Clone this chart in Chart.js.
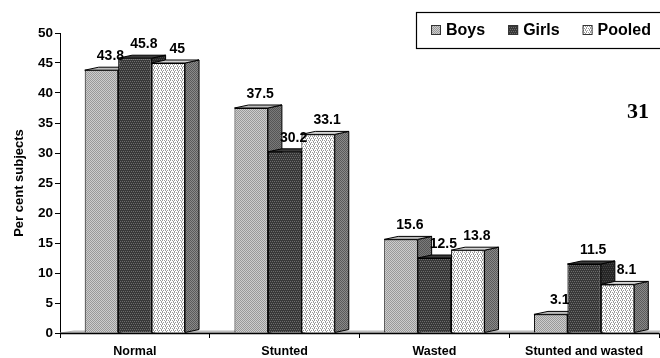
<!DOCTYPE html>
<html>
<head>
<meta charset="utf-8">
<script src="https://cdn.jsdelivr.net/npm/chart.js@4.4.1/dist/chart.umd.min.js"></script>
<style>
  html, body { margin: 0; padding: 0; background: #fff; }
  canvas { display: block; }
</style>
</head>
<body>
<canvas id="chart" width="660" height="358"></canvas>
<script>
// Nutritional status by sex (per cent of subjects)
const categories = ['Normal', 'Stunted', 'Wasted', 'Stunted and wasted'];
const seriesNames = ['Boys', 'Girls', 'Pooled'];
const boys   = [43.8, 37.5, 15.6, 3.1];
const girls  = [45.8, 30.2, 12.5, 11.5];
const pooled = [45, 33.1, 13.8, 8.1];
const yMin = 0, yMax = 50, yStep = 5;
const yTitle = 'Per cent subjects';
const pageNumber = '31';

// depth of the extruded 3-D look, in pixels
const DX = 14, DY = 3;
const FONT = '"Liberation Sans", Arial, sans-serif';

// small dithered fills
function makePattern(size, painter) {
  const c = document.createElement('canvas');
  c.width = size; c.height = size;
  const g = c.getContext('2d');
  painter(g);
  return document.getElementById('chart').getContext('2d').createPattern(c, 'repeat');
}
function checker(a, b) {
  return makePattern(2, g => {
    g.fillStyle = a; g.fillRect(0, 0, 2, 2);
    g.fillStyle = b; g.fillRect(0, 0, 1, 1); g.fillRect(1, 1, 1, 1);
  });
}
function bricks(a, b) {
  return makePattern(4, g => {
    g.fillStyle = a; g.fillRect(0, 0, 4, 4);
    g.fillStyle = b;
    g.fillRect(0, 1, 1, 1); g.fillRect(2, 1, 1, 1);
    g.fillRect(1, 3, 1, 1); g.fillRect(3, 3, 1, 1);
  });
}
function dots(a, b) {
  return makePattern(4, g => {
    g.fillStyle = a; g.fillRect(0, 0, 4, 4);
    g.fillStyle = b;
    g.fillRect(0, 0, 1, 1); g.fillRect(2, 0, 1, 1);
    g.fillRect(1, 1, 1, 1); g.fillRect(3, 2, 1, 1);
    g.fillRect(1, 2, 1, 1); g.fillRect(2, 3, 1, 1);
  });
}

const fills = {
  front: [checker('#cdcdcd', '#999999'), bricks('#383838', '#6a6a6a'), dots('#ffffff', '#9a9a9a')],
  side:  [checker('#7a7a7a', '#555555'), bricks('#262626', '#454545'), checker('#8a8a8a', '#5a5a5a')],
  top:   ['#bdbdbd', '#3a3a3a', '#d6d6d6']
};

const seriesValues = [boys, girls, pooled];

// floor, side faces and top faces behind the bar fronts
const depthPlugin = {
  id: 'depth',
  beforeDatasetsDraw(chart) {
    const { ctx, chartArea } = chart;
    const base = chart.scales.y.getPixelForValue(0);
    ctx.save();
    // floor slab
    ctx.beginPath();
    ctx.moveTo(chartArea.left, base);
    ctx.lineTo(chartArea.right, base);
    ctx.lineTo(chartArea.right + DX, base - DY + 1);
    ctx.lineTo(chartArea.left + DX, base - DY + 1);
    ctx.closePath();
    ctx.fillStyle = '#d2d2d2';
    ctx.fill();
    ctx.strokeStyle = '#9a9a9a';
    ctx.lineWidth = 0.7;
    ctx.stroke();

    ctx.lineWidth = 1;
    ctx.strokeStyle = '#000';
    for (let d = 0; d < chart.data.datasets.length; d++) {
      const meta = chart.getDatasetMeta(d);
      meta.data.forEach(bar => {
        const p = bar.getProps(['x', 'y', 'base', 'width'], true);
        const l = p.x - p.width / 2, r = p.x + p.width / 2;
        const t = p.y, b = p.base;
        // side face
        ctx.beginPath();
        ctx.moveTo(r, t);
        ctx.lineTo(r + DX, t - DY);
        ctx.lineTo(r + DX, b - DY);
        ctx.lineTo(r, b);
        ctx.closePath();
        ctx.fillStyle = fills.side[d];
        ctx.fill();
        ctx.stroke();
        // top face
        ctx.beginPath();
        ctx.moveTo(l, t);
        ctx.lineTo(l + DX, t - DY);
        ctx.lineTo(r + DX, t - DY);
        ctx.lineTo(r, t);
        ctx.closePath();
        ctx.fillStyle = fills.top[d];
        ctx.fill();
        ctx.stroke();
      });
    }
    ctx.restore();
  },
  afterDatasetsDraw(chart) {
    const { ctx, chartArea } = chart;
    const base = chart.scales.y.getPixelForValue(0);
    ctx.save();
    // axis line over the floor
    ctx.strokeStyle = '#000';
    ctx.lineWidth = 1.5;
    ctx.beginPath();
    ctx.moveTo(chartArea.left, base + 0.5);
    ctx.lineTo(chartArea.right, base + 0.5);
    ctx.stroke();
    // value labels
    ctx.fillStyle = '#000';
    ctx.font = 'bold 14px ' + FONT;
    ctx.textAlign = 'center';
    ctx.textBaseline = 'middle';
    chart.data.datasets.forEach((ds, d) => {
      chart.getDatasetMeta(d).data.forEach((bar, i) => {
        const p = bar.getProps(['x', 'y'], true);
        ctx.fillText(String(ds.data[i]), p.x + DX / 2 + 2, p.y - 14);
      });
    });
    ctx.restore();
  },
  afterDraw(chart) {
    const { ctx } = chart;
    ctx.save();
    // legend box
    ctx.strokeStyle = '#000';
    ctx.lineWidth = 1.2;
    ctx.strokeRect(416.5, 12.5, 260, 36);
    ctx.font = 'bold 16px ' + FONT;
    ctx.textBaseline = 'middle';
    ctx.textAlign = 'left';
    let x = 431;
    seriesNames.forEach((name, d) => {
      ctx.fillStyle = fills.front[d];
      ctx.fillRect(x, 25, 10, 10);
      ctx.lineWidth = 1;
      ctx.strokeStyle = '#333';
      ctx.strokeRect(x + 0.5, 25.5, 9, 9);
      ctx.fillStyle = '#000';
      ctx.fillText(name, x + 15, 31);
      x += 15 + ctx.measureText(name).width + 23;
    });
    // page number
    ctx.font = 'bold 22px "Liberation Serif", "Times New Roman", serif';
    ctx.textAlign = 'center';
    ctx.fillText(pageNumber, 638, 112);
    ctx.restore();
  }
};

new Chart(document.getElementById('chart'), {
  type: 'bar',
  data: {
    labels: categories,
    datasets: seriesValues.map((vals, d) => ({
      label: seriesNames[d],
      data: vals,
      backgroundColor: fills.front[d],
      borderColor: '#000',
      borderWidth: 1,
      borderSkipped: 'start',
      categoryPercentage: 0.67,
      barPercentage: 1.0
    }))
  },
  options: {
    responsive: false,
    animation: false,
    devicePixelRatio: 1,
    layout: { padding: { top: 33, right: 1, left: 0, bottom: 0 } },
    plugins: {
      legend: { display: false },
      tooltip: { enabled: false }
    },
    scales: {
      x: {
        offset: true,
        grid: { offset: true, drawOnChartArea: false, tickLength: 5, color: '#000' },
        border: { color: '#000', width: 1 },
        ticks: {
          color: '#000',
          font: { family: FONT, size: 12.5, weight: 'bold' },
          padding: 6,
          maxRotation: 0,
          autoSkip: false
        },
        afterFit(scale) { scale.height = 25; }
      },
      y: {
        min: yMin,
        max: yMax,
        grid: { drawOnChartArea: false, tickLength: 5, color: '#000' },
        border: { color: '#000', width: 1 },
        ticks: {
          stepSize: yStep,
          color: '#000',
          font: { family: FONT, size: 13.5, weight: 'bold' },
          padding: 2
        },
        title: {
          display: true,
          text: yTitle,
          color: '#000',
          font: { family: FONT, size: 13, weight: 'bold' },
          padding: { top: 12, bottom: 0 }
        },
        afterFit(scale) { scale.width = 60; }
      }
    }
  },
  plugins: [depthPlugin]
});
</script>
</body>
</html>
